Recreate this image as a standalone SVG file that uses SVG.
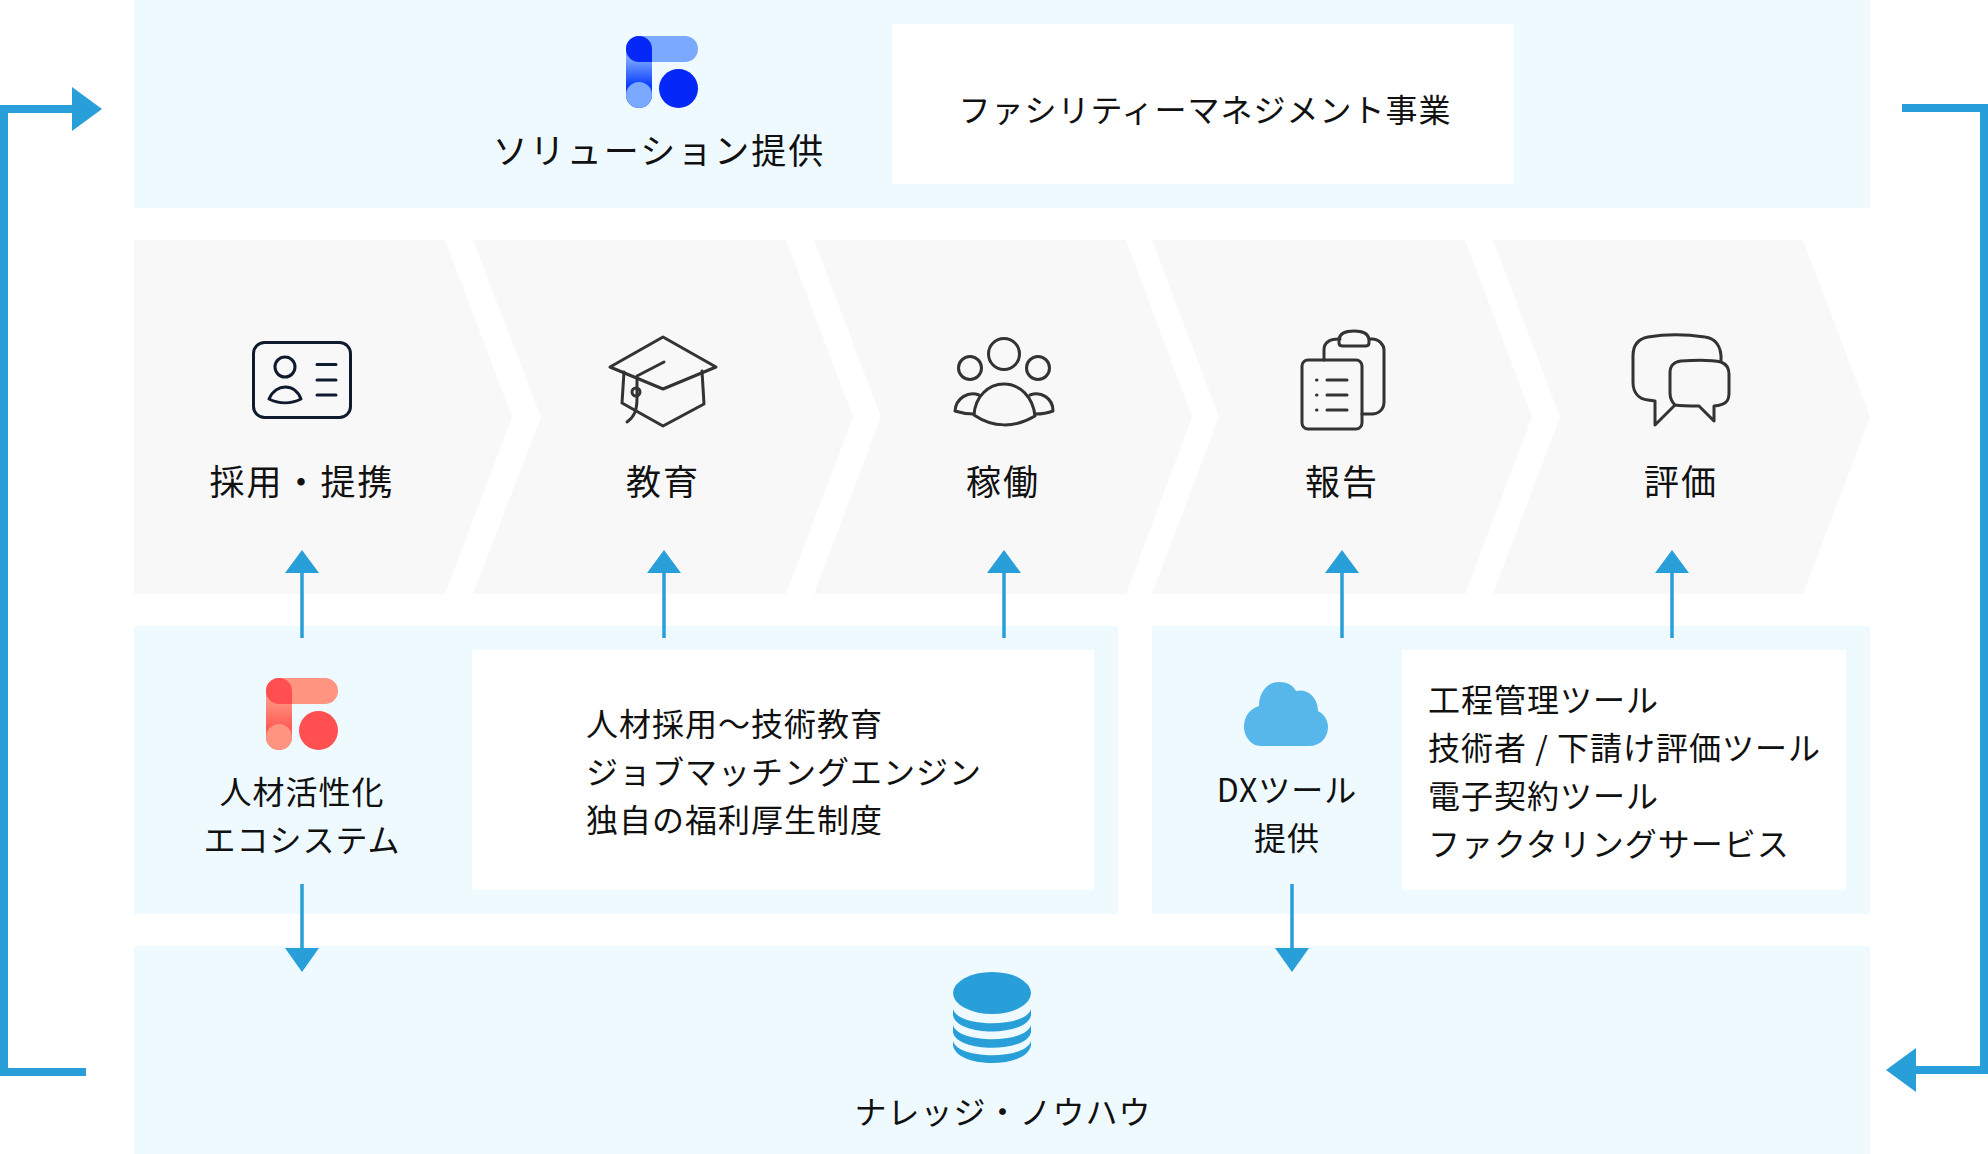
<svg xmlns="http://www.w3.org/2000/svg" width="1988" height="1154" viewBox="0 0 1988 1154">
<style>
text{font-family:"Noto Sans CJK JP","Noto Sans",sans-serif;font-size:32px;fill:#111;letter-spacing:1px}
.b{font-size:35px;letter-spacing:2px}
.m{text-anchor:middle}
.p{fill:#eefaff}
.w{fill:#fff}
.c{fill:#f8f8f8}
.i{fill:none;stroke:#333;stroke-width:3;stroke-linecap:round;stroke-linejoin:round}
.l{fill:none;stroke:#289fd8}
.h{fill:#289fd8}
</style>
<defs>
<linearGradient id="gb" gradientUnits="userSpaceOnUse" x1="0" y1="22" x2="0" y2="50"><stop offset="0" stop-color="#7aa9ff"/><stop offset="1" stop-color="#0a3cff"/></linearGradient>
<linearGradient id="gr" gradientUnits="userSpaceOnUse" x1="0" y1="22" x2="0" y2="50"><stop offset="0" stop-color="#ff9480"/><stop offset="1" stop-color="#ff5a55"/></linearGradient>
<path id="dark" d="M13 0A13 13 0 0 1 26 13V26H13A13 13 0 0 1 13 0Z"/>
</defs>
<g id="panel-solution"><rect class="p" x="134" y="0" width="1736" height="208"/><rect class="w" x="892" y="24" width="622" height="160"/>
<g transform="translate(626,36)"><rect width="26" height="72" rx="13" fill="url(#gb)"/><rect width="72" height="26" rx="13" fill="#7aa9ff"/><use href="#dark" fill="#0527f8"/><circle cx="13" cy="59" r="13" fill="#7aa9ff"/><circle cx="52.500" cy="52.500" r="19.500" fill="#0527f8"/></g>
<text class="m b" x="659" y="164">ソリューション提供</text>
<text class="m" x="1205" y="122">ファシリティーマネジメント事業</text></g>
<g id="step-1"><path class="c" d="M134 240H445L512 417L445 594H134Z"/>
<g><rect x="253.500" y="342.500" width="97" height="75" rx="11" fill="none" stroke="#0f1a2e" stroke-width="3"/><circle cx="285" cy="367" r="10" fill="none" stroke="#0f1a2e" stroke-width="3"/><path d="M269 399C276 383 295 383 301 399C291 404 279 404 269 399Z" fill="none" stroke="#0f1a2e" stroke-width="3" stroke-linejoin="round"/><path d="M317 364.500H336M317 380H336M317 395H336" fill="none" stroke="#0f1a2e" stroke-width="3" stroke-linecap="round"/></g>
<text class="m b" x="302" y="495">採用・提携</text></g>
<g id="step-2"><path class="c" d="M473 240H786L853 417L786 594H473L541 417Z"/>
<g class="i"><path d="M663 337L716 367L663 389L610 367Z"/><path d="M624 372L622 403L663 426L704 404L702 371"/><path d="M664 362L637 376V398C637 411 634 417 627 422"/><circle cx="636" cy="392" r="4"/></g>
<text class="m b" x="663" y="495">教育</text></g>
<g id="step-3"><path class="c" d="M814 240H1126L1192 417L1126 594H814L881 417Z"/>
<g class="i"><circle cx="1004" cy="354" r="15.500"/><circle cx="970" cy="368" r="11.500"/><circle cx="1038" cy="368" r="11.500"/><path d="M974 415C975 397 988 384 1004 384C1020 384 1033 397 1035 416C1015 428 993 428 974 415Z"/><path d="M979 395C968 391 956 398 955 411C961 413 967 414 974 414"/><path d="M1030 395C1041 391 1053 398 1053 411C1048 413 1041 414 1035 414"/></g>
<text class="m b" x="1003" y="495">稼働</text></g>
<g id="step-4"><path class="c" d="M1152 240H1465L1532 417L1465 594H1152L1219 417Z"/>
<g class="i"><rect x="1302" y="360" width="60" height="69" rx="6"/><path d="M1324 360V350C1324 341 1331 339 1339 339H1340M1369 339H1372C1379 339 1384 345 1384 350V402C1384 410 1378 414 1372 414H1362"/><path d="M1339 339C1340 333 1347 331 1354 331C1362 331 1368 333 1369 339V343C1369 345 1367 346 1365 346H1343C1340 346 1339 345 1339 343Z"/><path d="M1327 380H1347M1327 395H1347M1327 410H1347"/><path d="M1316.500 380H1317M1316.500 395H1317M1316.500 410H1317"/></g>
<text class="m b" x="1342" y="495">報告</text></g>
<g id="step-5"><path class="c" d="M1493 240H1803L1870 417L1803 594H1493L1560 417Z"/>
<g class="i"><path d="M1721 361C1722 345 1714 338 1705 337C1684 334 1666 334 1648 337C1637 339 1633 346 1633 356V382C1633 393 1639 399 1648 400L1655 401V425L1675 405"/><path d="M1675 405C1671 401 1670 397 1670 393V373C1670 365 1674 362 1681 361C1698 360 1712 360 1721 362C1726 364 1729 368 1729 374V393C1729 401 1726 405 1714 406V421L1699 406C1690 406 1682 406 1675 405Z"/></g>
<text class="m b" x="1681" y="495">評価</text></g>
<g id="panel-hr"><rect class="p" x="134" y="626" width="984" height="288"/><rect class="w" x="472" y="650" width="622" height="240"/>
<g transform="translate(266,678)"><rect width="26" height="72" rx="13" fill="url(#gr)"/><rect width="72" height="26" rx="13" fill="#ff9480"/><use href="#dark" fill="#ff4f50"/><circle cx="13" cy="59" r="13" fill="#ff9480"/><circle cx="52.500" cy="52.500" r="19.500" fill="#ff4f50"/></g>
<text class="m" x="302" y="804">人材活性化</text><text class="m" x="302" y="852">エコシステム</text>
<text x="586" y="736">人材採用～技術教育</text><text x="586" y="784">ジョブマッチングエンジン</text><text x="586" y="832">独自の福利厚生制度</text></g>
<g id="panel-dx"><rect class="p" x="1152" y="626" width="718" height="288"/><rect class="w" x="1402" y="650" width="444" height="240"/>
<path d="M1261 746C1250 746 1244 735 1244 727C1244 716 1250 709 1259 706C1259 693 1267 682 1279 682C1287 682 1293 685 1296 691C1306 688 1318 696 1318 711C1324 714 1328 720 1328 727C1328 738 1320 746 1309 746Z" fill="#57b7ea"/>
<text class="m" x="1287" y="802">DXツール</text><text class="m" x="1287" y="850">提供</text>
<text x="1428" y="712">工程管理ツール</text><text x="1428" y="760">技術者 / 下請け評価ツール</text><text x="1428" y="808">電子契約ツール</text><text x="1428" y="856">ファクタリングサービス</text></g>
<g id="panel-knowledge"><rect class="p" x="134" y="946" width="1736" height="208"/>
<g class="h"><ellipse cx="992" cy="993" rx="39" ry="21"/><path d="M953 1009C958 1028 1026 1028 1031 1009V1015C1028 1037 956 1037 953 1015Z"/><path d="M953 1025C958 1044 1026 1044 1031 1025V1032C1028 1053 956 1053 953 1032Z"/><path d="M953 1041C958 1060 1026 1060 1031 1041V1045C1028 1069 956 1069 953 1045Z"/></g>
<text class="m" x="1003" y="1124">ナレッジ・ノウハウ</text></g>
<g id="connectors">
<path class="l" stroke-width="3.500" d="M302 638V570M664 638V570M1004 638V570M1342 638V570M1672 638V570M302 884V952M1292 884V952"/>
<path class="h" d="M285 573L302 550L319 573ZM647 573L664 550L681 573ZM987 573L1004 550L1021 573ZM1325 573L1342 550L1359 573ZM1655 573L1672 550L1689 573ZM285 948L302 972L319 948ZM1275 948L1292 972L1309 948Z"/>
<path class="l" stroke-width="8" d="M86 1072H4V109H75"/>
<path class="h" d="M72 87L102 109L72 131Z"/>
<path class="l" stroke-width="8" d="M1902 108H1984V1070H1915"/>
<path class="h" d="M1916 1048L1886 1070L1916 1092Z"/>
</g>
</svg>
